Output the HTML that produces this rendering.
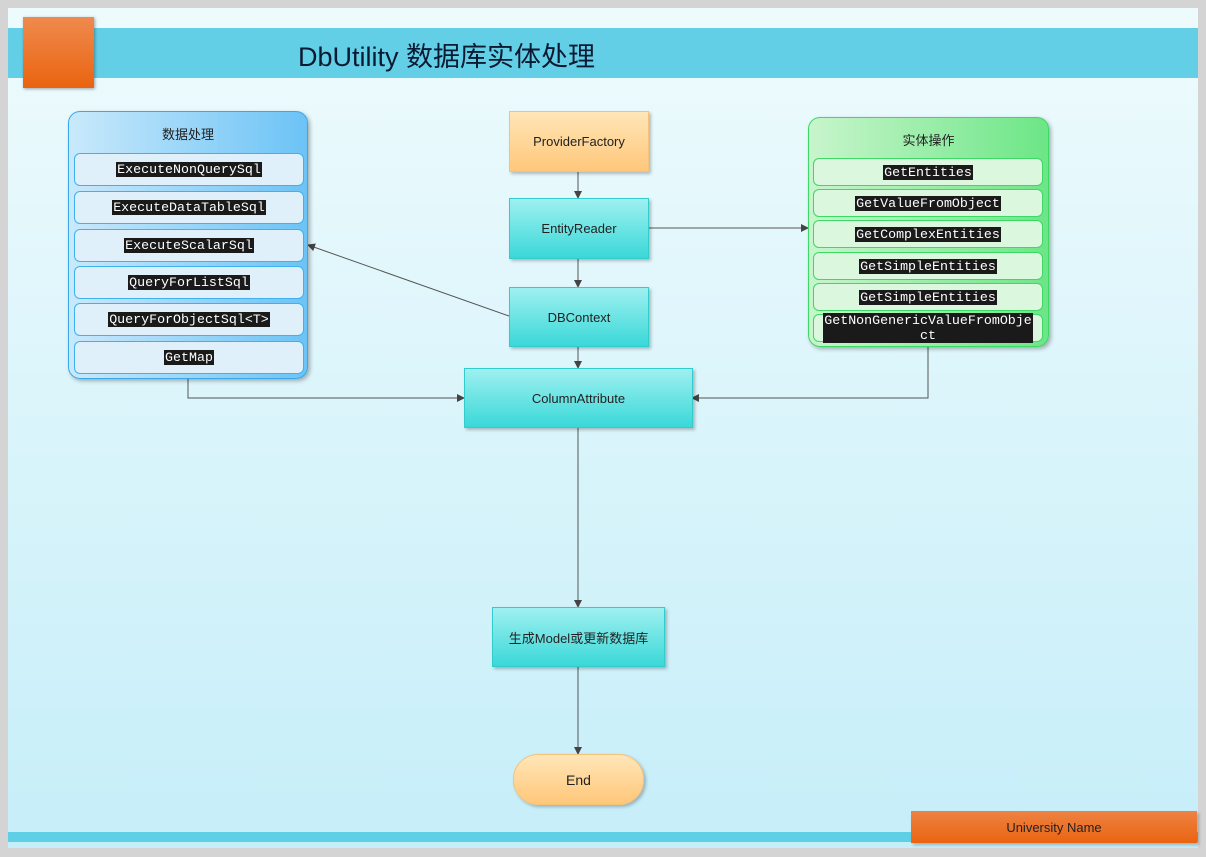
<!DOCTYPE html>
<html><head><meta charset="utf-8"><style>
body{margin:0;width:1206px;height:857px;background:#d4d4d4;position:relative;overflow:hidden;font-family:"Liberation Sans","Noto Sans CJK SC",sans-serif}
.a{position:absolute}
.page{left:8px;top:8px;width:1190px;height:840px;background:linear-gradient(#eefbfd,#c6eef9)}
.node{position:absolute;box-sizing:border-box;display:flex;align-items:center;justify-content:center;font-size:13px;color:#222;box-shadow:2px 2px 3px rgba(0,0,0,.25)}
.cy{background:linear-gradient(#9ff0f0,#3ad8d8);border:1px solid #3cc;}
.item{position:absolute;display:flex;align-items:center;justify-content:center;border-radius:6px;font-family:"Liberation Mono",monospace;font-size:13.3px;text-align:center;line-height:15px}
.item span{background:#1a1a1a;color:#fff;padding:0 1px}
.l .item{left:5px;width:228px;height:31px;background:#dff0fb;border:1px solid #3fb2ee}
.r .item{left:4px;width:228px;height:26px;background:#dbf8de;border:1px solid #3dd865}
</style></head><body>
<div class="a page"></div>
<div class="a" style="left:8px;top:28px;width:1190px;height:50px;background:#63cfe6"></div>
<div class="a" style="left:23px;top:17px;width:71px;height:71px;background:linear-gradient(#ef8a4e,#ea6410);box-shadow:1px 1px 3px rgba(0,0,0,.35)"></div>
<div class="a" style="left:298px;top:35px;font-size:27px;color:#0b1a33">DbUtility 数据库实体处理</div>
<div class="a" style="left:8px;top:832px;width:1190px;height:10px;background:#5fcfe6"></div>
<div class="node" style="left:911px;top:811px;width:286px;height:32px;background:linear-gradient(#ee8244,#ea6410)">University Name</div>

<svg class="a" style="left:0;top:0" width="1206" height="857">
<defs><marker id="m" markerWidth="8" markerHeight="8" refX="7" refY="4" orient="auto" markerUnits="userSpaceOnUse"><path d="M0,0L8,4L0,8z" fill="#444"/></marker></defs>
<g stroke="#555" stroke-width="1" fill="none" marker-end="url(#m)">
<path d="M578 172V198"/><path d="M649 228H808"/><path d="M578 259V287"/>
<path d="M509 316L308 245"/><path d="M578 347V368"/>
<path d="M188 378V398H464"/><path d="M928 346V398H692"/>
<path d="M578 428V607"/><path d="M578 667V754"/>
</g></svg>

<div class="a l" style="left:68px;top:111px;width:238px;height:266px;border:1px solid #3aa7e8;border-radius:12px;background:linear-gradient(90deg,#c9e9fb,#6cc3f6);box-shadow:2px 2px 4px rgba(0,0,0,.3)">
<div class="a" style="left:0;top:12px;width:238px;text-align:center;font-size:13px;color:#222">数据处理</div>
<div class="item" style="top:41px"><span>ExecuteNonQuerySql</span></div>
<div class="item" style="top:79px"><span>ExecuteDataTableSql</span></div>
<div class="item" style="top:117px"><span>ExecuteScalarSql</span></div>
<div class="item" style="top:154px"><span>QueryForListSql</span></div>
<div class="item" style="top:191px"><span>QueryForObjectSql&lt;T&gt;</span></div>
<div class="item" style="top:229px"><span>GetMap</span></div>
</div>

<div class="a r" style="left:808px;top:117px;width:239px;height:228px;border:1px solid #3dd865;border-radius:12px;background:linear-gradient(90deg,#c8f5cc,#6ce686);box-shadow:2px 2px 4px rgba(0,0,0,.3)">
<div class="a" style="left:0;top:12px;width:239px;text-align:center;font-size:13px;color:#222">实体操作</div>
<div class="item" style="top:40px"><span>GetEntities</span></div>
<div class="item" style="top:71px"><span>GetValueFromObject</span></div>
<div class="item" style="top:102px"><span>GetComplexEntities</span></div>
<div class="item" style="top:134px"><span>GetSimpleEntities</span></div>
<div class="item" style="top:165px"><span>GetSimpleEntities</span></div>
<div class="item" style="top:196px"><span>GetNonGenericValueFromObje<br>ct</span></div>
</div>

<div class="node" style="left:509px;top:111px;width:140px;height:61px;background:linear-gradient(#ffe6b8,#ffc77a);border:1px solid #f5c27a">ProviderFactory</div>
<div class="node cy" style="left:509px;top:198px;width:140px;height:61px">EntityReader</div>
<div class="node cy" style="left:509px;top:287px;width:140px;height:60px">DBContext</div>
<div class="node cy" style="left:464px;top:368px;width:229px;height:60px">ColumnAttribute</div>
<div class="node cy" style="left:492px;top:607px;width:173px;height:60px">生成Model或更新数据库</div>
<div class="node" style="left:513px;top:754px;width:131px;height:51px;border-radius:25px;background:linear-gradient(#ffe6b8,#ffc77a);border:1px solid #f5c27a;font-size:14px">End</div>
</body></html>
